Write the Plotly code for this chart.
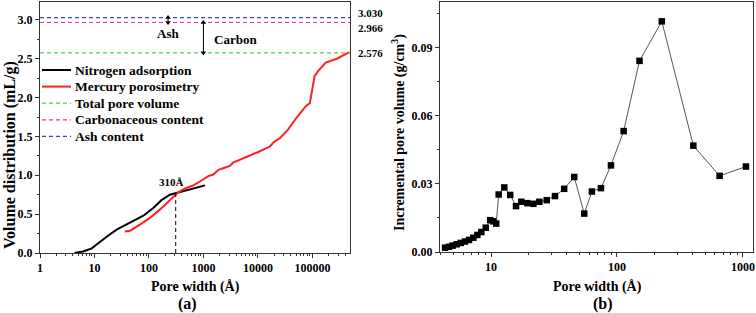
import numpy as np
import plotly.graph_objects as go

# ---------------- data ----------------
n2_x = [4.3, 6.2, 8.9, 11.7, 16.7, 25.5, 39, 55.5, 78.8, 120, 170, 242, 345, 567, 1070]
n2_y = [0.0, 0.02, 0.06, 0.13, 0.21, 0.30, 0.37, 0.42, 0.48, 0.58, 0.68, 0.75, 0.78, 0.82, 0.87]

hg_x = [36, 45, 68, 104, 158, 242, 345, 460, 650, 860, 1230, 1520, 1880, 2300, 3050, 3500,
        6200, 10100, 16600, 19800, 25500, 36000, 51000, 76000, 90000, 110000, 127000,
        176000, 280000, 480000]
hg_y = [0.278, 0.287, 0.365, 0.451, 0.558, 0.678, 0.78, 0.83, 0.87, 0.92, 0.99, 1.01, 1.07,
        1.09, 1.12, 1.165, 1.235, 1.30, 1.37, 1.43, 1.48, 1.59, 1.74, 1.89, 1.93, 2.28, 2.34,
        2.45, 2.50, 2.585]

total_pore = 2.576
carbon_content = 2.966
ash_content = 3.030
split_width = 310
split_vol = 0.78

inc_x = [4.32, 4.64, 4.96, 5.34, 5.75, 6.22, 6.69, 7.24, 7.79, 8.38, 9.08, 9.85, 10.4, 11.0,
         11.5, 12.75, 14.2, 15.8, 17.4, 19.4, 21.7, 24.2, 27.7, 32.2, 38.1, 45.8, 55.0, 63.2,
         74.6, 89.6, 113, 151, 227, 404, 653, 1057]
inc_y = [0.0019, 0.0023, 0.0028, 0.0034, 0.0040, 0.0046, 0.0053, 0.0063, 0.0075, 0.0088,
         0.0107, 0.0140, 0.0135, 0.0125, 0.0253, 0.0284, 0.0251, 0.0202, 0.0221, 0.0215,
         0.0212, 0.0221, 0.0228, 0.0246, 0.0278, 0.0330, 0.0169, 0.0266, 0.0281, 0.0381,
         0.0532, 0.0841, 0.1015, 0.0468, 0.0335, 0.0376]

left_x_ticks = [1, 10, 100, 1000, 10000, 100000]
left_x_ticktext = ["1", "10", "100", "1000", "10000", "100000"]
right_x_ticks = [10, 100, 1000]

legend_names = ["Nitrogen adsorption", "Mercury porosimetry", "Total pore volume",
                "Carbonaceous content", "Ash content"]

# ---------------- style ----------------
FONT = "Liberation Serif"
W, H = 756, 313
BLUE = "#3344dd"
PINK = "#ee3399"
GREEN = "#55cc55"
RED = "#ff2020"
AX = "#333333"
DASH = "4px,3px"
left_range = [0, 5.69]
right_range = [0.595, 3.08]

fig = go.Figure()

xl = [10 ** left_range[0], 10 ** left_range[1]]
fig.add_trace(go.Scatter(x=n2_x, y=n2_y, mode="lines", name=legend_names[0],
                         line=dict(color="black", width=2), xaxis="x", yaxis="y"))
fig.add_trace(go.Scatter(x=hg_x, y=hg_y, mode="lines", name=legend_names[1],
                         line=dict(color=RED, width=2), xaxis="x", yaxis="y"))
fig.add_trace(go.Scatter(x=xl, y=[total_pore] * 2, mode="lines", name=legend_names[2],
                         line=dict(color=GREEN, width=1.2, dash=DASH), xaxis="x", yaxis="y"))
fig.add_trace(go.Scatter(x=xl, y=[carbon_content] * 2, mode="lines", name=legend_names[3],
                         line=dict(color=PINK, width=1.2, dash=DASH), xaxis="x", yaxis="y"))
fig.add_trace(go.Scatter(x=xl, y=[ash_content] * 2, mode="lines", name=legend_names[4],
                         line=dict(color=BLUE, width=1.2, dash=DASH), xaxis="x", yaxis="y"))
fig.add_trace(go.Scatter(x=[split_width, split_width], y=[0, split_vol], mode="lines",
                         line=dict(color="black", width=1, dash=DASH),
                         xaxis="x", yaxis="y"))

# double-headed arrows (Ash, Carbon)
ash_xv = 224
carbon_xv = 1000
for xv, top, bot in [(ash_xv, ash_content, carbon_content),
                     (carbon_xv, carbon_content, total_pore)]:
    fig.add_trace(go.Scatter(x=[xv, xv], y=[bot, top], mode="lines",
                             hoverinfo="skip", line=dict(color="black", width=1),
                             xaxis="x", yaxis="y"))
    fig.add_trace(go.Scatter(x=[xv, xv], y=[top, bot], mode="markers",
                             hoverinfo="skip",
                             marker=dict(symbol=["triangle-up", "triangle-down"], size=5,
                                         color="black"),
                             xaxis="x", yaxis="y"))

fig.add_trace(go.Scatter(x=inc_x, y=inc_y, mode="lines+markers",
                         line=dict(color="#555555", width=1),
                         marker=dict(symbol="square", size=6.5, color="black"),
                         xaxis="x2", yaxis="y2"))

tickfont = dict(family=FONT, size=12, color="black", weight="bold")
common = dict(showline=True, linecolor=AX, linewidth=1, mirror=True, ticks="outside",
              ticklen=4, tickcolor=AX, showgrid=False, zeroline=False, tickfont=tickfont,
              automargin=False)

ydom = [(H - 253) / H, (H - 2) / H]
ydom2 = [(H - 252) / H, (H - 2) / H]
fig.update_layout(
    width=W, height=H, margin=dict(l=0, r=0, t=0, b=0),
    paper_bgcolor="white", plot_bgcolor="white", showlegend=False,
    xaxis=dict(type="log", range=left_range, domain=[40 / W, 350 / W], anchor="y",
               tickvals=left_x_ticks, ticktext=left_x_ticktext,
               minor=dict(ticks="outside", ticklen=2, dtick="D1", tickcolor=AX, showgrid=False),
               **common),
    yaxis=dict(range=[0, 3.23], domain=ydom, anchor="x", dtick=0.5, tickformat=".1f",
               minor=dict(ticks="outside", ticklen=2, dtick=0.25, tickcolor=AX, showgrid=False),
               **common),
    xaxis2=dict(type="log", range=right_range, domain=[440 / W, 753 / W], anchor="y2",
                tickvals=right_x_ticks,
                minor=dict(ticks="outside", ticklen=2, dtick="D1", tickcolor=AX, showgrid=False),
                **common),
    yaxis2=dict(range=[0, 0.11], domain=ydom2, anchor="x2", dtick=0.03, tickformat=".2f",
                minor=dict(ticks="outside", ticklen=2, dtick=0.015, tickcolor=AX, showgrid=False),
                **common),
)

bold = lambda s: dict(family=FONT, size=s, color="black", weight="bold")
C = dict(xanchor="center", yanchor="middle", showarrow=False)
ann = []
shapes = []
# legend (drawn in the left panel's upper-left area)
leg_styles = [("black", 2, "solid"), (RED, 2, "solid"), (GREEN, 1.2, DASH),
              (PINK, 1.2, DASH), (BLUE, 1.2, DASH)]
for i, (name, (col, wd, ds)) in enumerate(zip(legend_names, leg_styles)):
    ypx = 70 + i * 16.6
    yp = (H - ypx) / H
    shapes.append(dict(type="line", xref="paper", yref="paper", x0=42 / W, x1=71 / W,
                       y0=yp, y1=yp, line=dict(color=col, width=wd, dash=ds)))
    ann.append(dict(text=name, x=73 / W, y=yp, xref="paper", yref="paper", xanchor="left",
                    yanchor="middle", showarrow=False, font=bold(13.5)))
# axis titles
ann.append(dict(text="Pore width (Å)", x=195 / W, y=(H - 287) / H, xref="paper", yref="paper",
                font=bold(14), **C))
ann.append(dict(text="(a)", x=187 / W, y=(H - 304) / H, xref="paper", yref="paper",
                font=bold(16), **C))
ann.append(dict(text="Volume distribution (mL/g)", x=10 / W, y=(H - 155) / H, xref="paper",
                yref="paper", textangle=-90, font=bold(16), **C))
ann.append(dict(text="Pore width (Å)", x=597 / W, y=(H - 287) / H, xref="paper", yref="paper",
                font=bold(14), **C))
ann.append(dict(text="(b)", x=603 / W, y=(H - 304) / H, xref="paper", yref="paper",
                font=bold(16), **C))
ann.append(dict(text="Incremental pore volume (g/cm<sup>3</sup>)", x=398 / W, y=(H - 133) / H,
                xref="paper", yref="paper", textangle=-90, font=bold(14), **C))
# reference values on the right
for val, dy in [(ash_content, 5), (carbon_content, -5), (total_pore, 0)]:
    ann.append(dict(text=f"{val:.3f}", x=356 / W, y=val, xref="paper", yref="y",
                    xanchor="left", yanchor="middle", yshift=dy, showarrow=False,
                    font=bold(11)))
ann.append(dict(text="Ash", x=np.log10(ash_xv), y=2.826, xref="x", yref="y", font=bold(13), **C))
ann.append(dict(text="Carbon", x=212 / W, y=2.75, xref="paper", yref="y", xanchor="left",
                yanchor="middle", showarrow=False, font=bold(13)))
ann.append(dict(text="310Å", x=np.log10(split_width) - 0.07, y=0.92, xref="x", yref="y",
                font=bold(11), **C))
fig.update_layout(annotations=ann, shapes=shapes)

fig.write_html("out.html", config={"displayModeBar": False},
               post_script="document.body.style.margin='0';")
